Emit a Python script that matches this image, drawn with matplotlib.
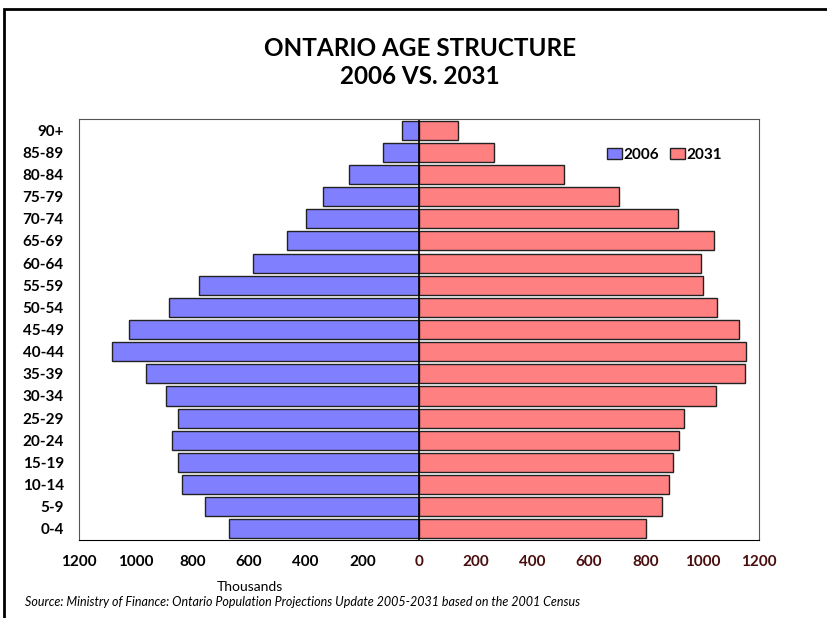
import numpy as np
import matplotlib.pyplot as plt
from matplotlib.patches import Rectangle

plt.rcParams['font.family'] = ['Lato', 'DejaVu Sans']

# age groups, bottom to top
ages = ['0-4', '5-9', '10-14', '15-19', '20-24', '25-29', '30-34', '35-39',
        '40-44', '45-49', '50-54', '55-59', '60-64', '65-69', '70-74',
        '75-79', '80-84', '85-89', '90+']
# population in thousands
pop_2006 = [670, 756, 837, 850, 871, 851, 894, 964, 1084, 1023,
            881, 778, 586, 466, 400, 339, 247, 127, 61]
pop_2031 = [802, 856, 881, 895, 917, 936, 1049, 1152, 1154, 1129,
            1050, 1003, 996, 1042, 915, 706, 512, 266, 138]
ticks = [-1200, -1000, -800, -600, -400, -200, 0, 200, 400, 600, 800, 1000, 1200]

fig = plt.figure(figsize=(8.27, 6.18), dpi=100)
ax = fig.add_axes([0.0955, 0.1262, 0.8223, 0.6812])

y = np.arange(len(ages))
ax.barh(y, -np.array(pop_2006), height=0.86, color='#8080FF',
        edgecolor='#222222', linewidth=1.0, label='2006')
ax.barh(y, pop_2031, height=0.86, color='#FF8080',
        edgecolor='#222222', linewidth=1.0, label='2031')
ax.axvline(0, color='black', linewidth=1.2)

ax.set_xlim(-1200, 1200)
ax.set_ylim(-0.5, len(ages) - 0.5)
ax.set_yticks(y)
ax.set_yticklabels(ages, fontsize=11, fontweight='bold')
ax.set_xticks(ticks)
ax.set_xticklabels([str(abs(t)) for t in ticks], fontsize=11, fontweight='bold')
for t, lab in zip(ticks, ax.get_xticklabels()):
    lab.set_color('black' if t < 0 else '#4a0d0d')
ax.tick_params(axis='y', length=0, pad=11)
ax.tick_params(axis='x', length=0, pad=11)

for s in ['top', 'right', 'left']:
    ax.spines[s].set_color('#555555')
ax.spines['bottom'].set_color('black')

leg = ax.legend(loc='upper right', bbox_to_anchor=(0.966, 0.965), ncol=2,
                frameon=False, prop={'weight': 'bold', 'size': 11},
                handlelength=1.0, handleheight=0.8, handletextpad=0.1,
                columnspacing=0.7)

fig.text(0.508, 0.922, 'ONTARIO AGE STRUCTURE', ha='center', va='center',
         fontsize=17.5, fontweight='bold')
fig.text(0.508, 0.877, '2006 VS. 2031', ha='center', va='center',
         fontsize=17.5, fontweight='bold')
fig.text(0.302, 0.050, 'Thousands', ha='center', va='center', fontsize=10)
fig.text(0.030, 0.026, 'Source: Ministry of Finance: Ontario Population Projections '
         'Update 2005-2031 based on the 2001 Census', ha='left', va='center',
         fontsize=9, style='italic')

fig.patches.append(Rectangle((0.005, -0.05), 1.2, 1.035, transform=fig.transFigure,
                             fill=False, edgecolor='black', linewidth=2))

fig.savefig('out.png', dpi=100)
